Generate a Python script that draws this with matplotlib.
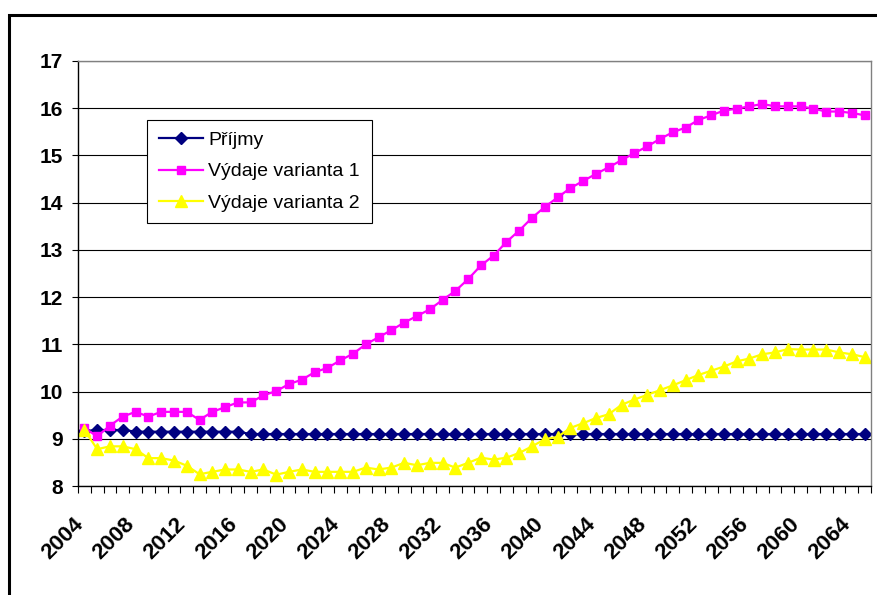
import matplotlib.pyplot as plt
import matplotlib.patches as mpatches
import matplotlib.transforms as mtransforms
import numpy as np

YEARS = list(range(2004, 2066))

PRIJMY = [9.16, 9.19, 9.18, 9.19] + [9.15] * 9 + [9.10] * 49

VYDAJE_1 = [
    9.23, 9.05, 9.28, 9.47, 9.57, 9.47, 9.57, 9.57, 9.57, 9.40,
    9.57, 9.67, 9.77, 9.77, 9.92, 10.01, 10.16, 10.25, 10.41, 10.50,
    10.66, 10.80, 11.00, 11.15, 11.30, 11.46, 11.60, 11.74, 11.94, 12.13,
    12.38, 12.67, 12.88, 13.17, 13.41, 13.68, 13.91, 14.11, 14.31, 14.46,
    14.61, 14.75, 14.90, 15.05, 15.19, 15.35, 15.49, 15.59, 15.75, 15.85,
    15.95, 15.99, 16.04, 16.09, 16.04, 16.04, 16.04, 15.99, 15.93, 15.93,
    15.90, 15.85,
]

VYDAJE_2 = [
    9.19, 8.78, 8.84, 8.84, 8.78, 8.59, 8.59, 8.54, 8.43, 8.25,
    8.30, 8.35, 8.35, 8.30, 8.35, 8.24, 8.30, 8.35, 8.30, 8.30,
    8.30, 8.30, 8.39, 8.35, 8.39, 8.49, 8.44, 8.49, 8.49, 8.39,
    8.49, 8.60, 8.56, 8.60, 8.70, 8.84, 8.99, 9.04, 9.23, 9.33,
    9.44, 9.52, 9.72, 9.83, 9.93, 10.03, 10.13, 10.24, 10.35, 10.44,
    10.53, 10.64, 10.70, 10.79, 10.83, 10.90, 10.89, 10.89, 10.89, 10.83,
    10.79, 10.73,
]

LABELS = ["Příjmy", "Výdaje varianta 1", "Výdaje varianta 2"]
Y_TICKS = list(range(8, 18))


def plot():
    plt.rcParams["font.family"] = ["Liberation Sans", "DejaVu Sans"]

    W, H = 877, 595
    fig = plt.figure(figsize=(W / 100, H / 100), dpi=100)
    ax = fig.add_axes([78 / W, 1 - 486 / H, (871 - 78) / W, (486 - 61) / H])

    x = np.arange(len(YEARS))
    ax.plot(x, PRIJMY, color="#000080", lw=1.6, marker="D", ms=6, label=LABELS[0])
    ax.plot(x, VYDAJE_1, color="#FF00FF", lw=1.6, marker="s", ms=6, label=LABELS[1])
    ax.plot(x, VYDAJE_2, color="#FFFF00", lw=1.6, marker="^", ms=8, label=LABELS[2])

    ax.set_xlim(-0.5, len(YEARS) - 0.5)
    ax.set_ylim(8, 17)

    # y axis: bold integer labels with horizontal grid
    ax.set_yticks(Y_TICKS, labels=[str(v) for v in Y_TICKS], fontweight="bold", fontsize=15)
    ax.tick_params(axis="y", direction="out", length=4, width=0.8, pad=7)
    ax.yaxis.grid(True, color="black", lw=0.8)
    ax.set_axisbelow(True)

    # x axis: ticks between categories, a label every 4 years
    ax.set_xticks(np.arange(-0.5, len(YEARS)), minor=True)
    major = x[::4]
    ax.set_xticks(major, labels=[str(YEARS[i]) for i in major], fontweight="bold", fontsize=16)
    ax.tick_params(axis="x", which="minor", direction="out", length=5, width=0.8)
    ax.tick_params(axis="x", which="major", length=0, pad=25)
    shift = mtransforms.ScaledTranslation(-4 / 100, 0, fig.dpi_scale_trans)
    for lbl in ax.get_xticklabels():
        lbl.set_rotation(45)
        lbl.set_ha("right")
        lbl.set_va("center")
        lbl.set_rotation_mode("anchor")
        lbl.set_transform(lbl.get_transform() + shift)

    for side in ("left", "bottom"):
        ax.spines[side].set_color("black")
        ax.spines[side].set_linewidth(1.0)
    for side in ("top", "right"):
        ax.spines[side].set_color("#808080")
        ax.spines[side].set_linewidth(1.0)

    leg = ax.legend(
        loc="upper left",
        bbox_to_anchor=(147 / W, 1 - 120 / H),
        bbox_transform=fig.transFigure,
        fontsize=14,
        frameon=True,
        fancybox=False,
        framealpha=1,
        edgecolor="black",
        borderaxespad=0,
        borderpad=0.6,
        labelspacing=0.7,
        handlelength=2.3,
        handletextpad=0.25,
    )
    leg.get_frame().set_linewidth(0.8)

    # outer chart frame
    fig.patches.append(
        mpatches.Rectangle(
            (9 / W, -0.1), 1.2, 1.1 - 15 / H,
            transform=fig.transFigure, fill=False, lw=2.2, ec="black",
        )
    )

    fig.savefig("out.png", dpi=100)


if __name__ == "__main__":
    plot()
